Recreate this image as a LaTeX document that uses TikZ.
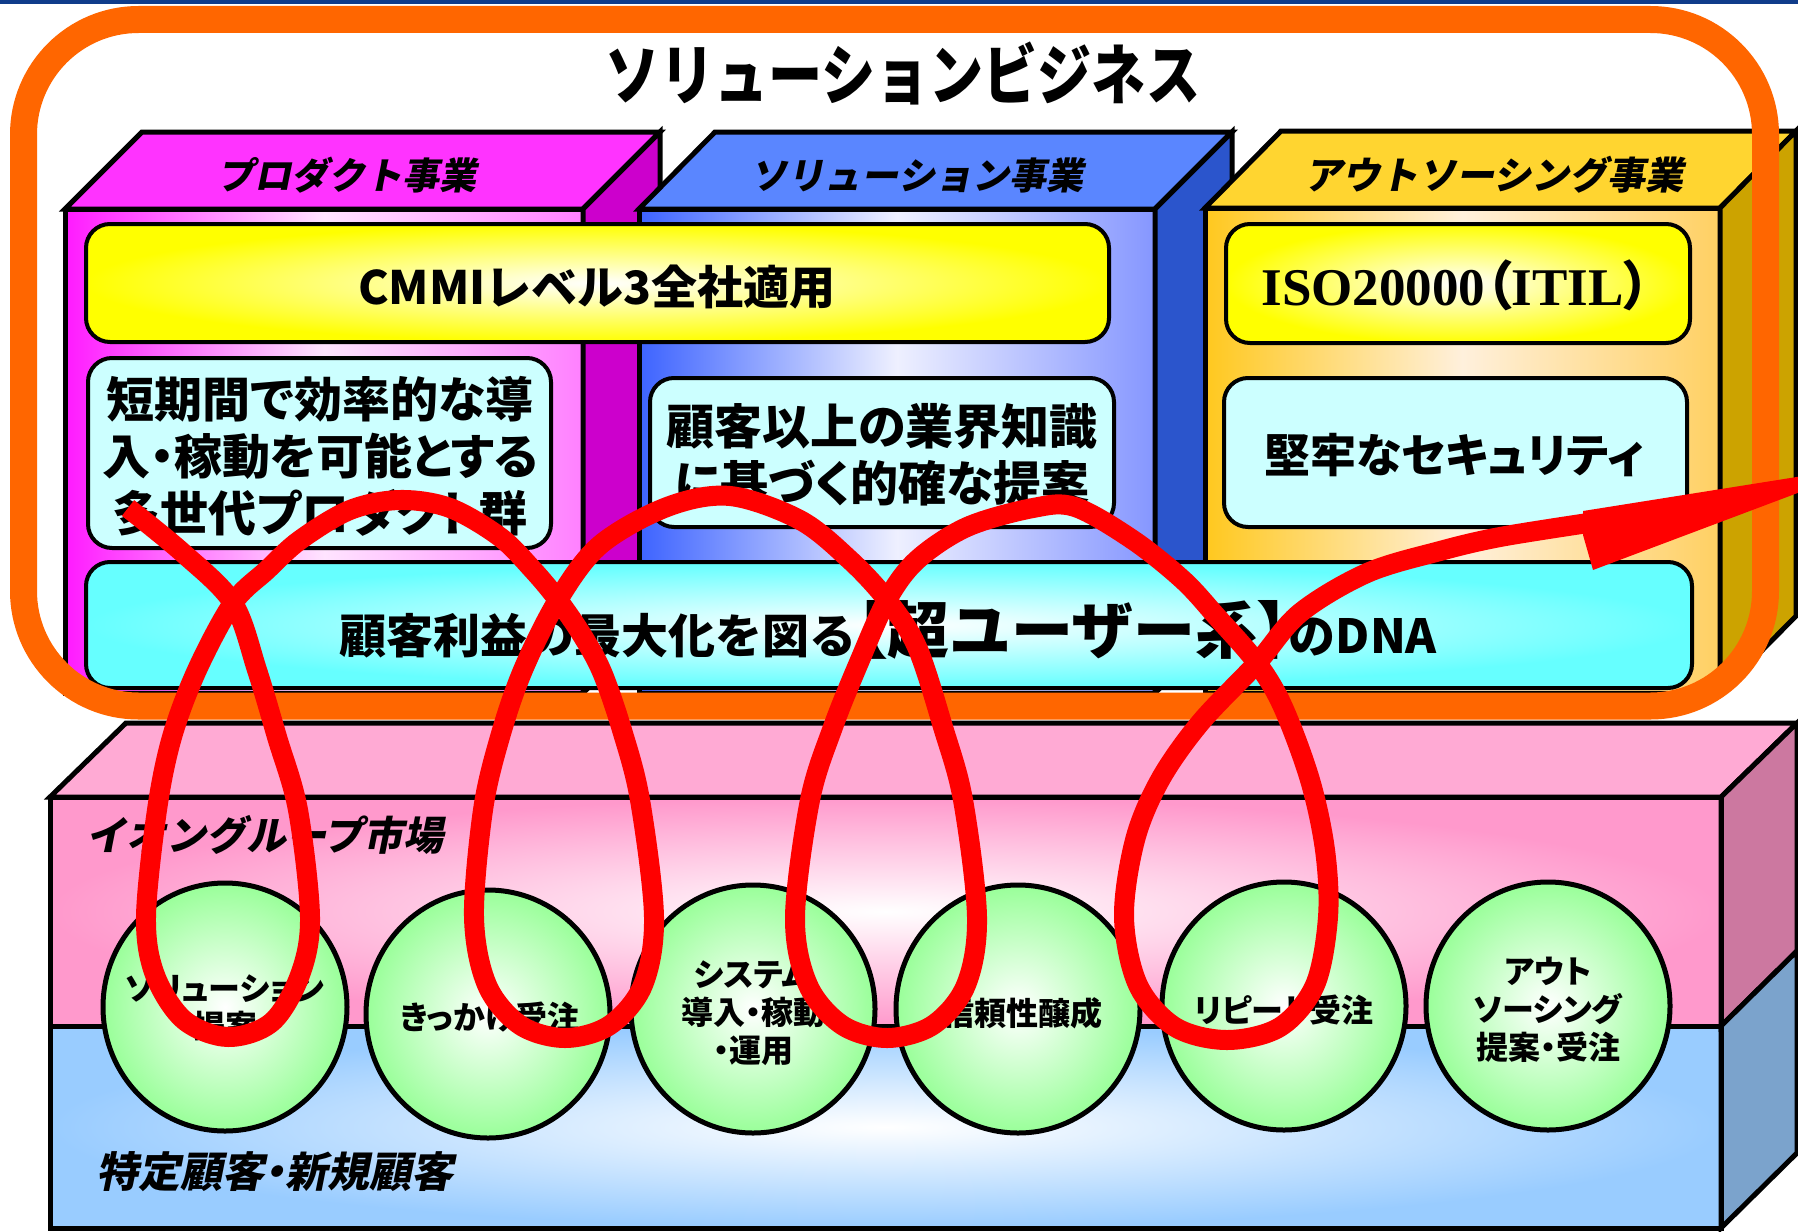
\documentclass[tikz,border=0pt]{standalone}
\usepackage{fontspec}
\setmainfont{Noto Sans CJK JP}
\newfontfamily\jpf{Noto Sans CJK JP}
\newfontfamily\jpp{Noto Sans CJK JP}[RawFeature=+palt]
\newfontfamily\jpsl{Noto Sans CJK JP}[FakeSlant=0.2]
\newfontfamily\jpslp{Noto Sans CJK JP}[FakeSlant=0.2, RawFeature=+palt]
\newfontfamily\isof{Liberation Serif}
\usetikzlibrary{shapes.geometric}
\newcommand\setfs[1]{\fontsize{#1pt}{#1pt}\selectfont}

\definecolor{navy}{HTML}{103C8A}
\definecolor{orng}{HTML}{FF6600}
\definecolor{redc}{HTML}{FF0000}
\definecolor{mgTop}{HTML}{FF33FF}
\definecolor{mgSide}{HTML}{CC00CC}
\definecolor{mgL}{HTML}{FF1AFF}
\definecolor{mgM}{HTML}{FFE4FF}
\definecolor{mgR}{HTML}{FF80FF}
\definecolor{blTop}{HTML}{5A86FF}
\definecolor{blSide}{HTML}{2B55CC}
\definecolor{blL}{HTML}{3D63FF}
\definecolor{blM}{HTML}{EEF0FF}
\definecolor{blR}{HTML}{8596FF}
\definecolor{gdTop}{HTML}{FFD530}
\definecolor{gdSide}{HTML}{CCA300}
\definecolor{gdL}{HTML}{FFC81E}
\definecolor{gdM}{HTML}{FFF0DC}
\definecolor{gdR}{HTML}{FFD062}
\definecolor{ylw}{HTML}{FFFF00}
\definecolor{cyl}{HTML}{CCFFFF}
\definecolor{cyd}{HTML}{66FFFF}
\definecolor{pkTop}{HTML}{FFAAD4}
\definecolor{pkSide}{HTML}{CC78A0}
\definecolor{pkF}{HTML}{FF99CC}
\definecolor{bsSide}{HTML}{7BA3CC}
\definecolor{bsF}{HTML}{99CCFF}
\definecolor{grn}{HTML}{99FF99}

\tikzset{
 bedge/.style={draw=black, line width=5pt, line join=miter},
 ibox/.style={draw=black, line width=4pt, rounded corners=24pt, rectangle, inner sep=0pt},
 ybar/.style={ibox, inner color=white, outer color=ylw},
 cbox/.style={ibox, fill=cyl},
 dbar/.style={ibox, inner color=white, outer color=cyd},
 ball/.style={ellipse, draw=black, line width=5pt, inner color=white, outer color=grn, minimum width=244pt, minimum height=248pt, inner sep=0pt},
 txt/.style={inner sep=0pt, text=black, align=center},
 balltxt/.style={txt, font=\jpp\bfseries\fontsize{32pt}{38pt}\selectfont},
 spiral/.style={draw=redc, line width=20pt, line cap=butt, line join=round},
}

\begin{document}
\begin{tikzpicture}[x=1pt,y=-1pt]
\useasboundingbox (0,0) rectangle (1798,1231);
\clip (0,0) rectangle (1798,1231);
\fill[white] (0,0) rectangle (1798,1231);
\fill[navy] (0,0) rectangle (1798,4.5);

% ---- lower slab ----
\filldraw[bedge, fill=pkTop] (50,797) -- (126,723) -- (1797,723) -- (1721,797) -- cycle;
\shade[inner color=white, outer color=pkF] (50,797) rectangle (1721,1026);
\shade[inner color=white, outer color=bsF] (50,1026) rectangle (1721,1228);
\filldraw[bedge, fill=pkSide] (1721,797) -- (1797,723) -- (1797,951) -- (1721,1026) -- cycle;
\filldraw[bedge, fill=bsSide] (1721,1026) -- (1797,951) -- (1797,1153) -- (1721,1228) -- cycle;
\draw[bedge] (50,797) rectangle (1721,1228);
\draw[bedge] (50,1026) -- (1721,1026);

% ---- product box ----
\path[bedge, left color=mgL, right color=mgR, middle color=mgM] (65,209) rectangle (583,693);
\filldraw[bedge, fill=mgTop] (65,209) -- (142,132) -- (660,132) -- (583,209) -- cycle;
\filldraw[bedge, fill=mgSide] (583,209) -- (660,132) -- (660,616) -- (583,693) -- cycle;
% ---- solution box ----
\path[bedge, left color=blL, right color=blR, middle color=blM] (639,209) rectangle (1155,693);
\filldraw[bedge, fill=blTop] (639,209) -- (715,132) -- (1232,132) -- (1155,209) -- cycle;
\filldraw[bedge, fill=blSide] (1155,209) -- (1232,132) -- (1232,616) -- (1155,693) -- cycle;
% ---- outsourcing box ----
\path[bedge, left color=gdL, right color=gdR, middle color=gdM] (1205,208) rectangle (1720,693);
\filldraw[bedge, fill=gdTop] (1205,208) -- (1281,131) -- (1796,131) -- (1720,208) -- cycle;
\filldraw[bedge, fill=gdSide] (1720,208) -- (1796,131) -- (1796,616) -- (1720,693) -- cycle;

% ---- inner boxes ----
\node[ybar, minimum width=1023pt, minimum height=118pt] (cmmi) at (597.5,283) {};
\node[ybar, minimum width=464pt, minimum height=119pt] (iso) at (1458,283.5) {};
\node[cbox, minimum width=463pt, minimum height=190pt] (pc) at (319.5,453) {};
\node[cbox, minimum width=464pt, minimum height=149pt] (sc) at (882,452.5) {};
\node[cbox, minimum width=463pt, minimum height=149pt] (oc) at (1455.5,452.5) {};
\node[dbar, minimum width=1606pt, minimum height=126pt] (dna) at (889,625) {};

\node[txt, font=\jpf\bfseries\setfs{46}] (cmmit) at (597,287) {CMMIレベル3全社適用};
\node[txt, font=\isof\bfseries\setfs{53}] (isot) at (1456,285) {ISO20000{\jpp\bfseries（}ITIL{\jpp\bfseries）}};
\node[txt, font=\jpp\bfseries\fontsize{48pt}{57pt}\selectfont] (pct) at (320,456) {短期間で効率的な導\\入・稼動を可能とする\\多世代プロダクト群};
\node[txt, font=\jpp\bfseries\fontsize{48pt}{57pt}\selectfont] (sct) at (882,455) {顧客以上の業界知識\\に基づく的確な提案};
\node[txt, font=\jpp\bfseries\setfs{46}] (oct) at (1454,455) {堅牢なセキュリティ};
\node[txt, font=\jpf\bfseries\setfs{47}] (dnat) at (888,630) {顧客利益の最大化を図る{\setfs{62}{\jpp\bfseries【}超ユーザー系{\jpp\bfseries】}}のDNA};

% ---- box titles ----
\node[txt, font=\jpsl\bfseries\setfs{37}] (pt) at (347,175) {プロダクト事業};
\node[txt, font=\jpsl\bfseries\setfs{37}] (st) at (917,175) {ソリューション事業};
\node[txt, font=\jpsl\bfseries\setfs{38}] (ot) at (1494,175) {アウトソーシング事業};

% ---- slab labels ----
\node[txt, anchor=west, font=\jpsl\bfseries\setfs{40}] (lab1) at (86,835) {イオングループ市場};
\node[txt, anchor=west, font=\jpslp\bfseries\setfs{42}] (lab2) at (96,1172) {特定顧客・新規顧客};

% ---- balls ----
\node[ball] (b1) at (225,1007) {};
\node[ball] (b2) at (488,1014) {};
\node[ball] (b3) at (753,1009) {};
\node[ball] (b4) at (1018,1009) {};
\node[ball] (b5) at (1284,1006) {};
\node[ball] (b6) at (1548,1006) {};
\node[balltxt] (t1) at (225,1008) {ソリューション\\提案};
\node[balltxt] (t2) at (490,1017) {きっかけ受注};
\node[balltxt] (t3) at (753,1013) {システム\\導入・稼動\\・運用};
\node[balltxt] (t4) at (1022,1013) {信頼性醸成};
\node[balltxt] (t5) at (1284,1010) {リピート受注};
\node[balltxt] (t6) at (1548,1010) {アウト\\ソーシング\\提案・受注};

% ---- orange frame ----
\draw[orng, line width=27pt, rounded corners=115pt] (23.5,19.5) rectangle (1765.5,706);
\node[txt, font=\jpf\bfseries\setfs{66}] (title) at (903,73) {\scalebox{0.82}[1]{ソリューションビジネス}};

% ---- red spiral ----
\draw[spiral] plot[smooth, tension=0.55] coordinates {
(128,508) (183,553) (233,603) (257,670) (277,737) (298,810) (310,917) (300,975) (272,1022) (228,1037) (184,1020) (155,975) (146,917) (157,810) (172,737) (197,670) (233,603) (267,570) (300,540) (350,510) (400,500) (450,508) (500,537) (533,570) (558,600) (582,635) (602,672) (622,730) (640,800) (654,917) (643,985) (610,1025) (565,1038) (520,1025) (487,985) (474,917) (483,810) (500,737) (523,670) (558,600) (600,545) (667,507) (730,496) (800,520) (850,560) (887,600) (917,647) (943,727) (963,800) (977,917) (966,985) (933,1025) (887,1038) (842,1025) (808,985) (795,917) (810,800) (833,727) (860,660) (887,600) (917,560) (967,527) (1033,508) (1075,507) (1133,540) (1183,580) (1217,617) (1257,663) (1283,707) (1310,780) (1325,850) (1328,917) (1315,985) (1280,1027) (1227,1040) (1175,1027) (1138,985) (1124,917) (1135,840) (1160,780) (1200,723) (1257,663) (1300,613) (1367,573) (1440,551) (1500,537) (1588,523)};
\fill[redc] (1583,511) -- (1872,465) -- (1593,570) -- (1583,535) -- cycle;
\end{tikzpicture}
\end{document}
